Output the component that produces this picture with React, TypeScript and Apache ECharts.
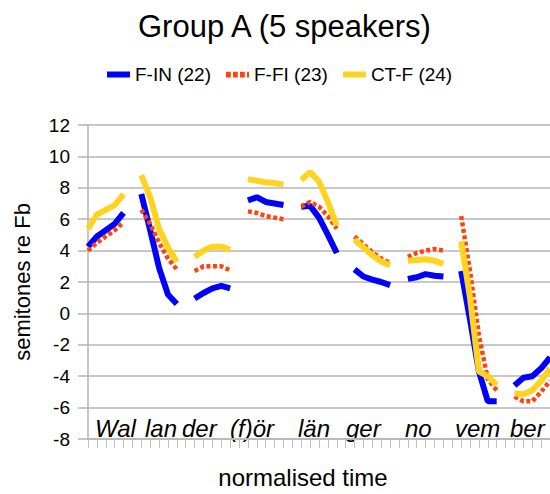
import React, { useEffect, useRef } from "react";
import * as echarts from "echarts";

const syllables = ["Wal", "lan", "der", "(f)ör", "län", "ger", "no", "vem", "ber"];
const syllableLeft = [95, 145, 182, 230, 298, 346, 405, 455, 510];

const seriesNames = ["F-IN (22)", "F-FI (23)", "CT-F (24)"];

// five samples per syllable (semitones re Fb)
const fIN = [
  [4.25, 4.9, 5.3, 5.7, 6.4],
  [7.6, 5.3, 2.9, 1.2, 0.6],
  [0.95, 1.3, 1.6, 1.75, 1.6],
  [7.2, 7.4, 7.1, 7.0, 6.9],
  [6.8, 6.85, 6.1, 5.0, 3.85],
  [2.8, 2.35, 2.15, 2.0, 1.8],
  [2.2, 2.3, 2.5, 2.4, 2.35],
  [2.7, -0.4, -3.7, -5.6, -5.6],
  [-4.6, -4.1, -4.0, -3.5, -2.8],
];
const fFI = [
  [4.0, 4.5, 4.9, 5.3, 5.8],
  [6.6, 5.7, 4.5, 3.5, 2.8],
  [2.7, 3.0, 3.0, 3.0, 2.75],
  [6.5, 6.4, 6.2, 6.1, 6.0],
  [6.8, 7.1, 6.8, 6.2, 5.4],
  [4.9, 4.4, 3.9, 3.5, 3.2],
  [3.6, 3.85, 4.0, 4.1, 4.0],
  [6.2, 2.7, -1.4, -4.2, -4.9],
  [-5.3, -5.6, -5.6, -5.0, -4.3],
];
const ctF = [
  [5.4, 6.3, 6.6, 6.9, 7.6],
  [8.8, 7.4, 5.4, 4.2, 3.3],
  [3.6, 4.0, 4.25, 4.25, 4.05],
  [8.55, 8.45, 8.35, 8.3, 8.2],
  [8.5, 9.0, 8.4, 7.1, 5.6],
  [4.7, 4.2, 3.7, 3.3, 3.05],
  [3.35, 3.4, 3.45, 3.35, 3.15],
  [4.6, 1.0, -3.7, -4.0, -4.55],
  [-5.1, -5.15, -4.9, -4.3, -3.5],
];

const yTicks = { min: -8, max: 12, interval: 2 };

function flatten(segs: number[][]): (number | null)[] {
  const out: (number | null)[] = [];
  segs.forEach((s, i) => {
    if (i > 0) out.push(null);
    s.forEach((v) => out.push(v));
  });
  return out;
}

const FONT = "'Liberation Sans', Arial, sans-serif";

export default function App() {
  const ref = useRef<HTMLDivElement>(null);
  useEffect(() => {
    if (!ref.current) return;
    const chart = echarts.init(ref.current, undefined, { renderer: "svg", width: 550, height: 494 });
    const d1 = flatten(fIN);
    const d2 = flatten(fFI);
    const d3 = flatten(ctF);
    const cats = d1.map((_, i) => String(i));
    const dotted =
      "path://M0,0h5v6h-5z M7.3,0h5v6h-5z M14.6,0h5v6h-5z M21.9,0h2.1v6h-2.1z";
    chart.setOption({
      animation: false,
      title: {
        text: "Group A (5 speakers)",
        left: 133,
        top: 6,
        textStyle: { fontFamily: FONT, fontSize: 31, fontWeight: "normal", color: "#000" },
      },
      legend: {
        left: 107,
        top: 65,
        padding: 0,
        itemWidth: 23,
        itemHeight: 6,
        itemGap: 15,
        textStyle: { fontFamily: FONT, fontSize: 19, color: "#000" },
        data: [
          { name: seriesNames[0], icon: "rect" },
          { name: seriesNames[1], icon: dotted },
          { name: seriesNames[2], icon: "rect" },
        ],
      },
      grid: { left: 88, right: 0, top: 125, bottom: 49, containLabel: false },
      xAxis: {
        type: "category",
        data: cats,
        boundaryGap: false,
        name: "normalised time",
        nameLocation: "middle",
        nameGap: 26,
        nameTextStyle: { fontFamily: FONT, fontSize: 24, color: "#000", padding: [0, 32, 0, 0] },
        axisLine: { onZero: false, lineStyle: { color: "#b3b3b3", width: 1.5 } },
        axisTick: { show: true, interval: 0, length: 9, lineStyle: { color: "#c0c0c0", width: 1 } },
        axisLabel: { show: false },
        splitLine: { show: false },
      },
      yAxis: {
        type: "value",
        min: yTicks.min,
        max: yTicks.max,
        interval: yTicks.interval,
        name: "semitones re Fb",
        nameLocation: "middle",
        nameGap: 55,
        nameTextStyle: { fontFamily: FONT, fontSize: 22, color: "#000" },
        axisLine: { show: true, lineStyle: { color: "#b3b3b3", width: 1.5 } },
        axisTick: { show: true, length: 10, lineStyle: { color: "#b3b3b3", width: 1.5 } },
        axisLabel: { fontFamily: FONT, fontSize: 19, color: "#000", margin: 18 },
        splitLine: { lineStyle: { color: "#c8c8c8", width: 2 } },
      },
      graphic: syllables.map((s, i) => ({
        type: "text",
        left: syllableLeft[i],
        top: 416,
        style: { text: s, font: `italic 24px ${FONT}`, fill: "#000" },
      })),
      series: [
        {
          name: seriesNames[0],
          type: "line",
          data: d1,
          symbol: "none",
          connectNulls: false,
          itemStyle: { color: "#0000ff" },
          lineStyle: { color: "#0000ff", width: 6, cap: "butt" },
        },
        {
          name: seriesNames[1],
          type: "line",
          data: d2,
          symbol: "none",
          connectNulls: false,
          itemStyle: { color: "#ff420e" },
          lineStyle: { color: "#ff420e", width: 4.5, type: [4, 2.5], cap: "butt" },
        },
        {
          name: seriesNames[2],
          type: "line",
          data: d3,
          symbol: "none",
          connectNulls: false,
          itemStyle: { color: "#ffd320" },
          lineStyle: { color: "#ffd320", width: 6, cap: "butt" },
        },
      ],
    });
    return () => chart.dispose();
  }, []);
  return (
    <div
      ref={ref}
      style={{ position: "fixed", left: 0, top: 0, width: 550, height: 494, background: "#fff" }}
    />
  );
}
